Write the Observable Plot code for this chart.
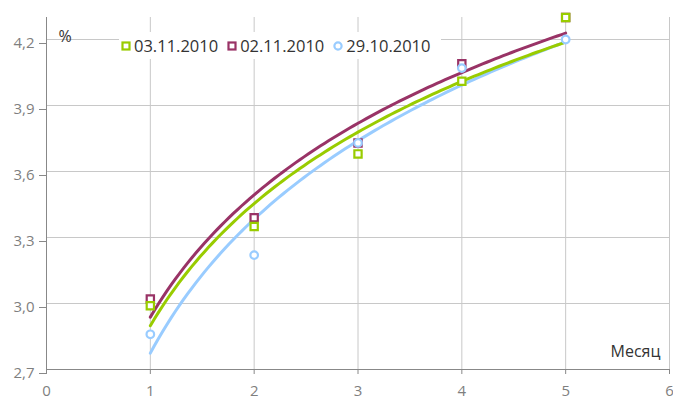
<!DOCTYPE html>
<html>
<head>
<meta charset="utf-8">
<script src="https://cdn.jsdelivr.net/npm/d3@7"></script>
<script src="https://cdn.jsdelivr.net/npm/@observablehq/plot@0.6"></script>
<style>
  html, body { margin: 0; padding: 0; background: #fff; }
  #wrap { position: relative; width: 673px; height: 400px; overflow: hidden; font-family: "Open Sans", sans-serif; }
  #legend { position: absolute; left: 119px; top: 32px; width: 322px; height: 27px; background: #fff;
            display: flex; align-items: center; font-size: 16.5px; color: #333; white-space: nowrap; }
  #legend .item { display: flex; align-items: center; }
  #legend svg { margin-right: 3px; }
</style>
</head>
<body>
<div id="wrap"></div>
<script>
// ---- data ----
const months = [1, 2, 3, 4, 5];
const seriesNames = ["03.11.2010", "02.11.2010", "29.10.2010"];
const s031110 = [2.99, 3.35, 3.68, 4.01, 4.30];
const s021110 = [3.02, 3.39, 3.73, 4.09, 4.30];
const s291010 = [2.86, 3.22, 3.73, 4.07, 4.20];
const seriesColors = ["#99cc00", "#993366", "#99ccff"];
const seriesSymbols = ["square", "square", "circle"];
const xTicks = [0, 1, 2, 3, 4, 5, 6];
const yTicks = [2.7, 3.0, 3.3, 3.6, 3.9, 4.2];
const yUnit = "%";
const xTitle = "Месяц";

const seriesValues = [s031110, s021110, s291010];
const points = [];
seriesNames.forEach((name, i) => {
  months.forEach((m, j) => points.push({series: name, x: m, y: seriesValues[i][j]}));
});

// logarithmic trendline (least squares on ln x), as the spreadsheet does
function logFit(xs, ys) {
  const lx = xs.map(Math.log);
  const mx = d3.mean(lx), my = d3.mean(ys);
  let sxy = 0, sxx = 0;
  lx.forEach((l, i) => { sxy += (l - mx) * (ys[i] - my); sxx += (l - mx) ** 2; });
  const a = sxy / sxx, b = my - a * mx;
  return x => a * Math.log(x) + b;
}
const trend = [];
seriesNames.forEach((name, i) => {
  const f = logFit(months, seriesValues[i]);
  const x0 = d3.min(months), x1 = d3.max(months);
  for (let k = 0; k <= 100; k++) {
    const x = x0 + (x1 - x0) * k / 100;
    trend.push({series: name, x, y: f(x)});
  }
});

const color = {domain: seriesNames, range: seriesColors};
const fmt = d => d3.format(".1f")(d).replace(".", ",");

const drawOrder = ["02.11.2010", "29.10.2010", "03.11.2010"];

const chart = Plot.plot({
  width: 673,
  height: 400,
  marginLeft: 46,
  marginRight: 4,
  marginTop: 17,
  marginBottom: 31,
  style: {fontFamily: "Open Sans, sans-serif", fontSize: "15px", background: "#fff", color: "#7f7f7f", overflow: "visible"},
  x: {domain: [0, 6]},
  y: {domain: [2.7, 4.3]},
  color,
  marks: [
    Plot.gridX(xTicks.slice(1), {stroke: "#c8c8c8", strokeOpacity: 1}),
    Plot.gridY(yTicks.slice(1), {stroke: "#c8c8c8", strokeOpacity: 1}),
    Plot.ruleY([2.7], {stroke: "#888"}),
    Plot.ruleX([0], {stroke: "#888"}),
    Plot.axisX(xTicks, {tickSize: 5, tickPadding: 11, tickFormat: d => String(d), label: null, stroke: "#888", fill: "#7f7f7f", fontSize: 15}),
    Plot.axisY(yTicks, {tickSize: 7, tickPadding: 5, tickFormat: fmt, label: null, stroke: "#888", fill: "#7f7f7f", fontSize: 15, dy: 4}),
    ...drawOrder.map(name => Plot.line(trend.filter(d => d.series === name), {x: "x", y: "y", stroke: "series", strokeWidth: 3})),
    ...drawOrder.map(name => {
      const i = seriesNames.indexOf(name);
      return Plot.dot(points.filter(d => d.series === name), {
        x: "x", y: "y", stroke: "series", fill: "#fff", strokeWidth: 2.2,
        symbol: seriesSymbols[i], r: seriesSymbols[i] === "square" ? 4.1 : 3.8
      });
    }),
    Plot.text([yUnit], {frameAnchor: "top-left", dx: 12, dy: 13, textAnchor: "start", fill: "#333", fontSize: 16}),
    Plot.text([xTitle], {frameAnchor: "bottom-right", dx: -9, dy: -13, textAnchor: "end", fill: "#333", fontSize: 16})
  ]
});

const wrap = document.getElementById("wrap");
wrap.appendChild(chart);

// legend (inside plot area, white box)
const legend = document.createElement("div");
legend.id = "legend";
seriesNames.forEach((name, i) => {
  const item = document.createElement("div");
  item.className = "item";
  item.style.marginLeft = i === 0 ? "2px" : "9px";
  const c = seriesColors[i];
  const mk = seriesSymbols[i] === "square"
    ? `<rect x="1.5" y="1.5" width="7" height="7" fill="#fff" stroke="${c}" stroke-width="2.2"/>`
    : `<circle cx="5" cy="5" r="3.6" fill="#fff" stroke="${c}" stroke-width="2.2"/>`;
  item.innerHTML = `<svg width="10" height="10">${mk}</svg><span>${name}</span>`;
  legend.appendChild(item);
});
wrap.appendChild(legend);
</script>
</body>
</html>
